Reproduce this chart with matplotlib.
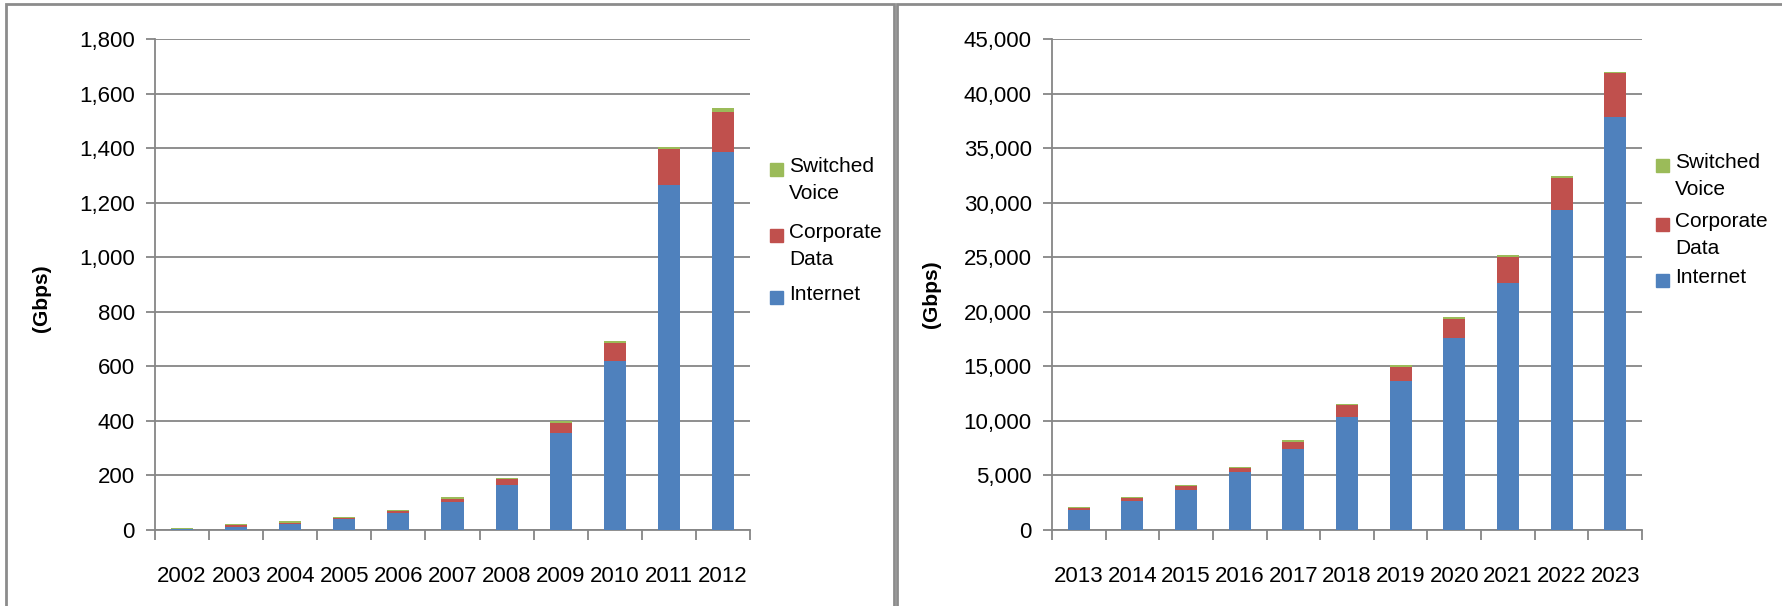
import numpy as np
import matplotlib
matplotlib.use('Agg')
import matplotlib.pyplot as plt
from matplotlib.patches import Rectangle

# Traffic by service type (Gbps)
years_a = ['2002', '2003', '2004', '2005', '2006', '2007', '2008', '2009', '2010', '2011', '2012']
internet_a = [1, 10, 21, 40, 62, 100, 165, 355, 620, 1265, 1385]
corporate_a = [2, 6, 5, 2, 6, 13, 19, 37, 66, 131, 150]
voice_a = [4, 4, 4, 3, 4, 5, 4, 6, 8, 10, 13]

years_b = ['2013', '2014', '2015', '2016', '2017', '2018', '2019', '2020', '2021', '2022', '2023']
internet_b = [1840, 2620, 3680, 5270, 7400, 10380, 13620, 17570, 22680, 29380, 37870]
corporate_b = [120, 240, 330, 390, 680, 1040, 1350, 1770, 2340, 2920, 4000]
voice_b = [90, 90, 110, 90, 120, 120, 130, 150, 150, 150, 150]

legend_labels = ['Switched\nVoice', 'Corporate\nData', 'Internet']

BLUE = '#4F81BD'
RED = '#C0504D'
GREEN = '#9BBB59'
GRID = '#868686'

W, H = 1782, 606
plt.rcParams['font.family'] = ['Liberation Sans', 'DejaVu Sans']

fig = plt.figure(figsize=(W / 100, H / 100), dpi=100)


def fx(px):
    return px / W


def fy(py):
    return 1 - py / H


def draw_panel(left, right, years, internet, corporate, voice, ymax, ystep):
    ax = fig.add_axes([fx(left), fy(529.6), fx(right - left), fy(39.4) - fy(529.6)])
    x = np.arange(len(years))
    internet = np.array(internet)
    corporate = np.array(corporate)
    voice = np.array(voice)
    width = 0.41
    ax.bar(x, internet, width, color=BLUE, zorder=3)
    ax.bar(x, corporate, width, bottom=internet, color=RED, zorder=3)
    ax.bar(x, voice, width, bottom=internet + corporate, color=GREEN, zorder=3)

    ax.set_xlim(-0.5, len(years) - 0.5)
    ax.set_ylim(0, ymax)
    ax.set_yticks(np.arange(0, ymax + 1, ystep))
    ax.yaxis.set_major_formatter(matplotlib.ticker.FuncFormatter(lambda v, p: f'{int(v):,}'))
    ax.grid(axis='y', color=GRID, linewidth=1.3, zorder=0)

    ax.set_xticks(x)
    ax.set_xticklabels(years)
    ax.set_xticks(np.arange(-0.5, len(years)), minor=True)
    ax.tick_params(axis='x', which='major', length=0, pad=26, labelsize=16)
    ax.tick_params(axis='x', which='minor', length=7, width=1.3, color=GRID, direction='out')
    ax.tick_params(axis='y', length=6.5, width=1.3, color=GRID, pad=8, labelsize=16)

    for s in ['top', 'right']:
        ax.spines[s].set_visible(False)
    for s in ['left', 'bottom']:
        ax.spines[s].set_color(GRID)
        ax.spines[s].set_linewidth(1.3)
    return ax


draw_panel(155, 750, years_a, internet_a, corporate_a, voice_a, 1800, 200)
draw_panel(1052, 1642, years_b, internet_b, corporate_b, voice_b, 45000, 5000)

# y-axis titles
fig.text(fx(42), fy(298), '(Gbps)', rotation=90, ha='center', va='center',
         fontsize=15, fontweight='bold')
fig.text(fx(932), fy(294), '(Gbps)', rotation=90, ha='center', va='center',
         fontsize=15, fontweight='bold')


# legends drawn as squares with wrapped labels
def draw_legend(sq_x, txt_x, rows):
    colors = [GREEN, RED, BLUE]
    for label, color, yc in zip(legend_labels, colors, rows):
        fig.add_artist(Rectangle((fx(sq_x), fy(yc + 6.5)), fx(13), 13 / H,
                                 transform=fig.transFigure, color=color))
        fig.text(fx(txt_x), fy(yc - 12), label, ha='left', va='top',
                 fontsize=15, linespacing=1.55)


draw_legend(770, 789, [169, 235, 297])
draw_legend(1656, 1675, [165, 224, 280])

# panel frames
fig.add_artist(Rectangle((fx(6), -0.1), fx(888), fy(4) + 0.1,
                         transform=fig.transFigure, fill=False,
                         edgecolor='#8C8C8C', linewidth=2))
fig.add_artist(Rectangle((fx(897), -0.1), fx(900), fy(4) + 0.1,
                         transform=fig.transFigure, fill=False,
                         edgecolor='#8C8C8C', linewidth=2))

fig.savefig('out.png', dpi=100)
